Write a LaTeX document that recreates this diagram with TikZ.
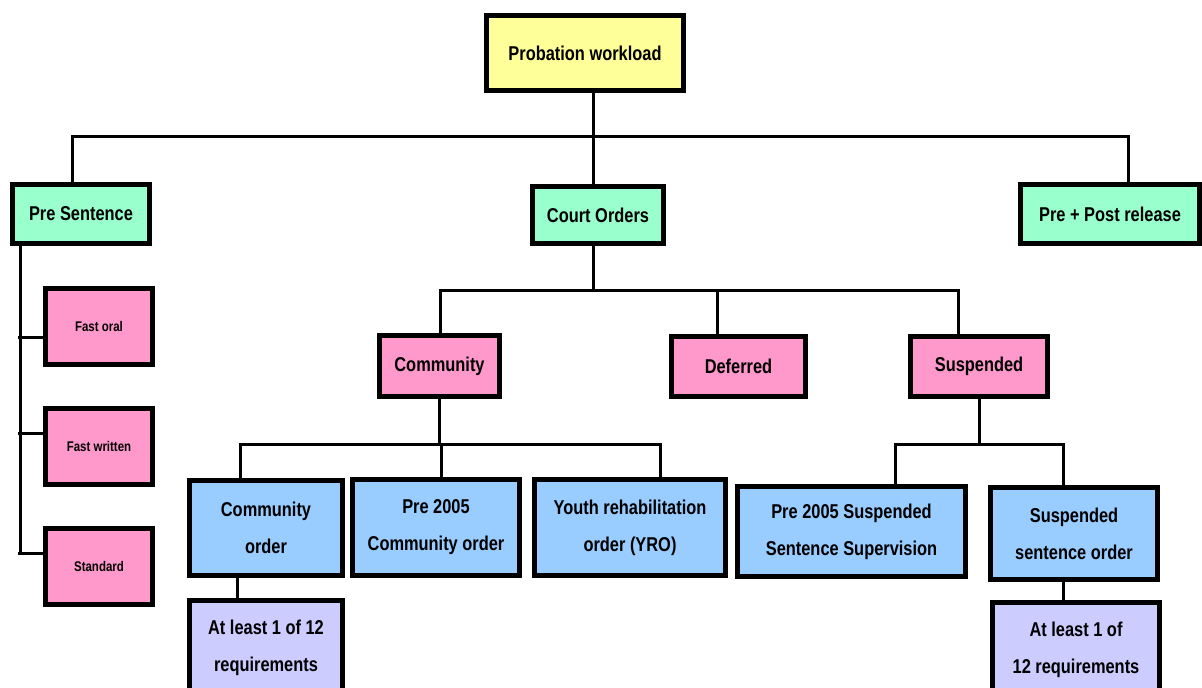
\documentclass[tikz,border=0pt]{standalone}
\usepackage{fontspec}
\setmainfont{Liberation Sans}[FakeStretch=0.82]
\usepackage{tikz}
\usetikzlibrary{positioning}

\definecolor{workyellow}{HTML}{FFFF99}
\definecolor{sentgreen}{HTML}{99FFCC}
\definecolor{typepink}{HTML}{FF99CC}
\definecolor{orderblue}{HTML}{99CCFF}
\definecolor{reqlilac}{HTML}{CCCCFF}

\tikzset{
  box/.style={draw=black, line width=3.75pt, align=center, inner sep=2pt,
    font=\bfseries\fontsize{15}{27.75}\selectfont},
  smallbox/.style={box, font=\bfseries\fontsize{10.5}{13}\selectfont},
  link/.style={draw=black, line width=2.25pt}
}

\begin{document}
\begin{tikzpicture}[x=0.75pt, y=-0.75pt]
  \useasboundingbox (0,0) rectangle (1202,688);
  \clip (0,0) rectangle (1202,688);

  % top
  \node[box, fill=workyellow, minimum width=147.75pt, minimum height=56.25pt] (top) at (585,53) {Probation workload};

  % first level
  \node[box, fill=sentgreen, minimum width=102.75pt, minimum height=44.25pt] (pre) at (81,214) {Pre Sentence};
  \node[box, fill=sentgreen, minimum width=98.25pt, minimum height=42.75pt] (court) at (598,215) {Court Orders};
  \node[box, fill=sentgreen, minimum width=134.25pt, minimum height=44.25pt] (post) at (1110,214) {Pre + Post release};

  % pre sentence reports
  \node[smallbox, fill=typepink, minimum width=80.25pt, minimum height=57pt] (fastoral) at (99,326.5) {Fast oral};
  \node[smallbox, fill=typepink, minimum width=80.25pt, minimum height=57pt] (fastwritten) at (99,446.5) {Fast written};
  \node[smallbox, fill=typepink, minimum width=80.25pt, minimum height=57pt] (standard) at (99,566.5) {Standard};

  % court orders
  \node[box, fill=typepink, minimum width=90pt, minimum height=45.75pt] (community) at (439.5,366) {Community};
  \node[box, fill=typepink, minimum width=100.5pt, minimum height=45pt] (deferred) at (738.5,366.5) {Deferred};
  \node[box, fill=typepink, minimum width=102.75pt, minimum height=45pt] (suspended) at (979,366.5) {Suspended};

  % community orders
  \node[box, fill=orderblue, minimum width=114.75pt, minimum height=71.25pt] (commorder) at (266,528) {Community\\order};
  \node[box, fill=orderblue, minimum width=125.25pt, minimum height=72pt] (precomm) at (436,527.5) {Pre 2005\\Community order};
  \node[box, fill=orderblue, minimum width=143.25pt, minimum height=72pt] (yro) at (630,527.5) {Youth rehabilitation\\order (YRO)};

  % suspended orders
  \node[box, fill=orderblue, minimum width=171pt, minimum height=67.5pt] (presusp) at (851.5,531.5) {Pre 2005 Suspended\\Sentence Supervision};
  \node[box, fill=orderblue, minimum width=125.25pt, minimum height=69pt] (sso) at (1074,533.5) {Suspended\\sentence order};

  % requirements
  \node[box, fill=reqlilac, minimum width=114.75pt, minimum height=71.25pt] (reqcomm) at (266,648) {At least 1 of 12\\requirements};
  \node[box, fill=reqlilac, minimum width=125.25pt, minimum height=71.25pt] (reqsusp) at (1076,650) {At least 1 of\\12 requirements};

  % bus coordinates
  \coordinate (b1) at (593,137);
  \coordinate (b1l) at (72,137);
  \coordinate (b1r) at (1128,137);
  \coordinate (b2) at (593,290);
  \coordinate (b2l) at (440,290);
  \coordinate (b2m) at (717,290);
  \coordinate (b2r) at (958,290);
  \coordinate (b3l) at (240,444);
  \coordinate (b3m) at (441,444);
  \coordinate (b3r) at (660,444);
  \coordinate (b4l) at (895,444);
  \coordinate (b4r) at (1063,444);
  \coordinate (sp) at (20,246);
  \coordinate (c4) at (237,0);

  % connectors
  \draw[link] (top.south -| b1) -- (b1);
  \draw[link] (b1l |- pre.north) -- (b1l) -- (b1r) -- (b1r |- post.north);
  \draw[link] (b1) -- (b1 |- court.north);

  \draw[link] (pre.south -| sp) -- (sp |- 0,553);
  \draw[link] ([yshift=-8.25pt]fastoral.west) -- ++(-25.5,0);
  \draw[link] ([yshift=9.75pt]fastwritten.west) -- ++(-25.5,0);
  \draw[link] ([yshift=9.75pt]standard.west) -- ++(-25.5,0);

  \draw[link] (court.south -| b2) -- (b2);
  \draw[link] (b2l |- community.north) -- (b2l) -- (b2r) -- (b2r |- suspended.north);
  \draw[link] (b2m) -- (b2m |- deferred.north);

  \draw[link] (community.south) -- (community.south |- b3m);
  \draw[link] (b3l |- commorder.north) -- (b3l) -- (b3r) -- (b3r |- yro.north);
  \draw[link] (b3m) -- (b3m |- precomm.north);

  \draw[link] (suspended.south) -- (suspended.south |- b4l);
  \draw[link] (b4l |- presusp.north) -- (b4l) -- (b4r) -- (b4r |- sso.north);

  \draw[link] (commorder.south -| c4) -- (reqcomm.north -| c4);
  \draw[link] (sso.south -| b4r) -- (reqsusp.north -| b4r);
\end{tikzpicture}
\end{document}
